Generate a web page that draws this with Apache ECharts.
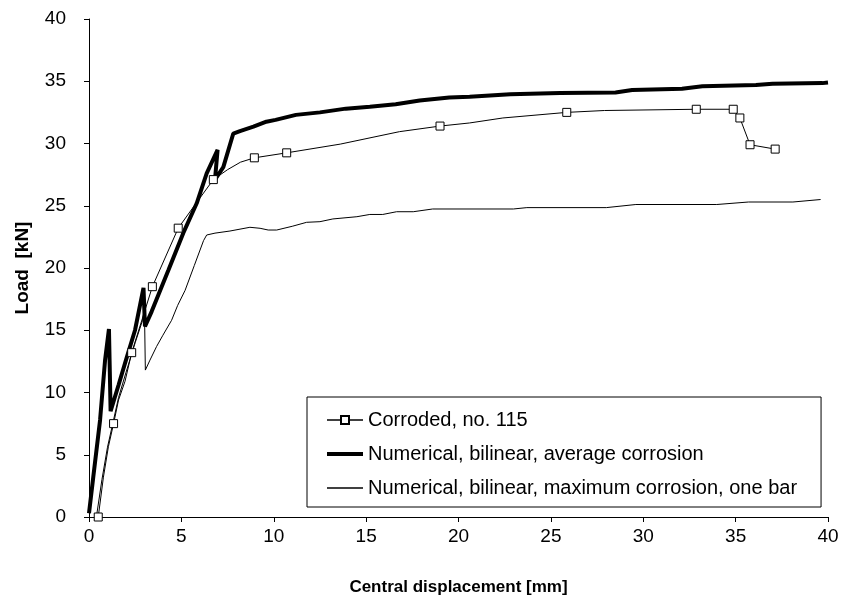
<!DOCTYPE html>
<html>
<head>
<meta charset="utf-8">
<script src="https://cdn.jsdelivr.net/npm/echarts@6/dist/echarts.min.js"></script>
<style>
  html, body { margin: 0; padding: 0; background: #fff; }
  #main { width: 844px; height: 601px; }
</style>
</head>
<body>
<div id="main"></div>
<script>
// 读图估计的数据: 位移 [mm], 荷载 [kN]
var xTicks = [0, 5, 10, 15, 20, 25, 30, 35, 40];
var yTicks = [0, 5, 10, 15, 20, 25, 30, 35, 40];

// Corroded, no. 115 (1 = 画方框标记)
var corrodedDisp = [0.5, 0.78, 1.05, 1.33, 1.6, 1.95, 2.31, 3.43, 4.83, 5.65, 6.73, 7.5, 8.2, 8.95, 10.7, 13.6, 16.8, 19.0, 20.6, 22.4, 25.86, 27.9, 32.87, 34.87, 35.23, 35.78, 37.14];
var corrodedLoad = [0.0, 3.2, 5.65, 7.5, 9.4, 10.9, 13.2, 18.5, 23.2, 24.9, 27.1, 27.9, 28.5, 28.85, 29.25, 29.95, 30.95, 31.4, 31.65, 32.05, 32.5, 32.65, 32.75, 32.75, 32.05, 29.9, 29.55];
var corrodedMark = [1, 0, 0, 1, 0, 0, 1, 1, 1, 0, 1, 0, 0, 1, 1, 0, 0, 1, 0, 0, 1, 0, 1, 1, 1, 1, 1];

// Numerical, bilinear, average corrosion
var avgDisp = [0, 0.23, 0.6, 0.87, 1.08, 1.17, 1.6, 2.0, 2.49, 2.95, 3.03, 3.39, 4.29, 5.1, 5.83, 6.37, 6.96, 6.82, 7.27, 7.81, 8.17, 8.9, 9.6, 10.1, 11.2, 12.5, 13.9, 15.2, 16.6, 17.9, 19.5, 20.6, 22.8, 25.5, 28.5, 29.4, 32.1, 33.2, 36.1, 37.0, 39.7, 40];
var avgLoad = [0.3, 3.2, 7.8, 12.6, 15.1, 8.5, 10.6, 12.6, 15.0, 18.4, 15.3, 16.5, 19.8, 22.8, 25.2, 27.6, 29.5, 27.1, 28.1, 30.8, 31.0, 31.35, 31.75, 31.9, 32.3, 32.5, 32.8, 32.95, 33.15, 33.45, 33.7, 33.75, 33.95, 34.05, 34.1, 34.3, 34.4, 34.6, 34.7, 34.8, 34.85, 34.9];

// Numerical, bilinear, maximum corrosion, one bar
var maxDisp = [0.4, 0.7, 1.0, 1.3, 1.6, 2.0, 2.5, 2.9, 3.0, 3.05, 3.3, 3.66, 4.0, 4.47, 4.8, 5.2, 5.7, 6.2, 6.37, 6.82, 7.63, 8.71, 9.26, 9.7, 10.16, 11.0, 11.78, 12.5, 13.2, 14.5, 15.2, 15.9, 16.65, 17.55, 18.6, 22.97, 23.7, 28.0, 29.6, 33.98, 35.7, 38.1, 39.6];
var maxLoad = [0, 3.0, 5.6, 7.6, 9.6, 11.6, 14.0, 15.8, 16.8, 11.8, 12.6, 13.7, 14.6, 15.8, 17.0, 18.2, 20.2, 22.2, 22.65, 22.8, 22.97, 23.27, 23.19, 23.05, 23.05, 23.35, 23.67, 23.72, 23.94, 24.12, 24.3, 24.3, 24.52, 24.52, 24.74, 24.74, 24.85, 24.85, 25.1, 25.1, 25.3, 25.3, 25.5];

var seriesNames = ['Corroded, no. 115', 'Numerical, bilinear, average corrosion', 'Numerical, bilinear, maximum corrosion, one bar'];

var font = '"Liberation Sans", Arial, sans-serif';

function pairs(xs, ys) {
  return xs.map(function (x, i) { return [x, ys[i]]; });
}

var corrodedData = corrodedDisp.map(function (x, i) {
  var item = { value: [x, corrodedLoad[i]] };
  if (!corrodedMark[i]) item.symbol = 'none';
  return item;
});

// 纯线图例: 隐藏图例里的圆点
var hiddenDot = { color: 'rgba(0,0,0,0)', borderWidth: 0, opacity: 0 };

var myChart = echarts.init(document.getElementById('main'));

var option = {
  animation: false,
  backgroundColor: '#fff',
  textStyle: { fontFamily: font, color: '#000' },
  grid: { left: 89, right: 16, top: 19, bottom: 84 },
  legend: {
    orient: 'vertical',
    left: 307,
    top: 397,
    padding: [13, 24, 9, 18],
    itemGap: 14,
    itemWidth: 36,
    itemHeight: 10,
    borderColor: '#000',
    borderWidth: 1,
    backgroundColor: '#fff',
    textStyle: { fontFamily: font, fontSize: 20, color: '#000' },
    data: [
      { name: seriesNames[0], lineStyle: { width: 1.5, color: '#000' } },
      { name: seriesNames[1], itemStyle: hiddenDot, lineStyle: { width: 4, color: '#000' } },
      { name: seriesNames[2], itemStyle: hiddenDot, lineStyle: { width: 1.5, color: '#000' } }
    ]
  },
  xAxis: {
    type: 'value',
    min: xTicks[0],
    max: xTicks[xTicks.length - 1],
    interval: 5,
    name: 'Central displacement [mm]',
    nameLocation: 'middle',
    nameGap: 62,
    nameTextStyle: { fontFamily: font, fontSize: 17, fontWeight: 'bold', color: '#000' },
    axisLine: { lineStyle: { color: '#000', width: 1 } },
    axisTick: { inside: false, length: 5, lineStyle: { color: '#000' } },
    axisLabel: { margin: 10, fontSize: 19, color: '#000', fontFamily: font },
    splitLine: { show: false }
  },
  yAxis: {
    type: 'value',
    min: yTicks[0],
    max: yTicks[yTicks.length - 1],
    interval: 5,
    name: 'Load  [kN]',
    nameLocation: 'middle',
    nameGap: 57,
    nameTextStyle: { fontFamily: font, fontSize: 19, fontWeight: 'bold', color: '#000' },
    axisLine: { show: true, lineStyle: { color: '#000', width: 1 } },
    axisTick: { show: true, inside: false, length: 5, lineStyle: { color: '#000' } },
    axisLabel: { margin: 23, fontSize: 19, color: '#000', fontFamily: font },
    splitLine: { show: false }
  },
  series: [
    {
      name: seriesNames[0],
      type: 'line',
      data: corrodedData,
      symbol: 'rect',
      symbolSize: 8,
      itemStyle: { color: '#fff', borderColor: '#000', borderWidth: 1 },
      lineStyle: { color: '#000', width: 1 },
      z: 4
    },
    {
      name: seriesNames[1],
      type: 'line',
      data: pairs(avgDisp, avgLoad),
      symbol: 'none',
      itemStyle: { color: '#000' },
      lineStyle: { color: '#000', width: 4 },
      z: 3
    },
    {
      name: seriesNames[2],
      type: 'line',
      data: pairs(maxDisp, maxLoad),
      symbol: 'none',
      itemStyle: { color: '#000' },
      lineStyle: { color: '#000', width: 1 },
      z: 2
    }
  ]
};

myChart.setOption(option);
</script>
</body>
</html>
